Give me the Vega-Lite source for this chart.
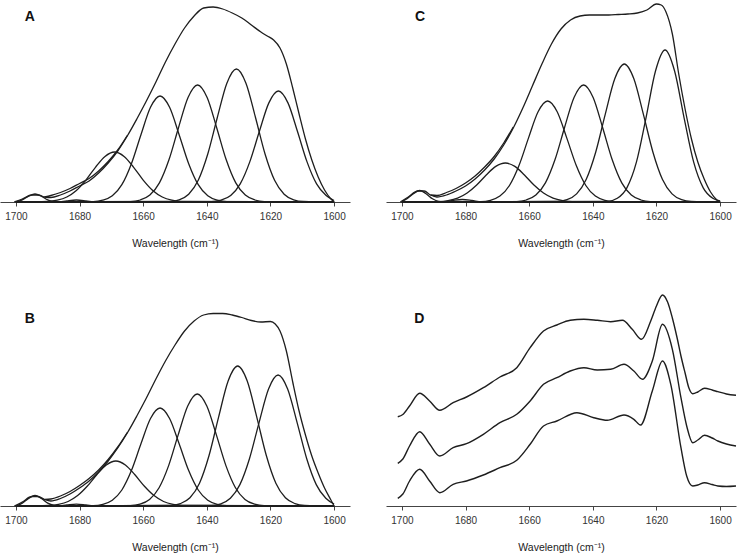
{
"$schema": "https://vega.github.io/schema/vega-lite/v6.json",
"padding": 0,
"background": "white",
"config": {"font": "Liberation Sans", "view": {"stroke": null},
  "axis": {"domainColor": "#444", "tickColor": "#444", "tickSize": 4, "labelFontSize": 10, "labelColor": "#333", "titleFontSize": 10.5, "titleFontWeight": "normal", "titleColor": "#222", "labelPadding": 5, "titlePadding": 17, "grid": false, "labelFlush": false, "labelOverlap": false, "format": "d"}},
"datasets": {
"A": [
{"s":"c1","x":1700,"y":0},{"s":"c1","x":1698,"y":2.2},{"s":"c1","x":1696,"y":5.8},{"s":"c1","x":1694,"y":8},{"s":"c1","x":1692,"y":5.8},{"s":"c1","x":1690,"y":2.2},{"s":"c1","x":1688,"y":0.4},{"s":"c1","x":1686,"y":0},{"s":"c1","x":1600,"y":0},
{"s":"c2","x":1700,"y":0},{"s":"c2","x":1687,"y":0},{"s":"c2","x":1684,"y":1.2},{"s":"c2","x":1681,"y":2},{"s":"c2","x":1678,"y":1.2},{"s":"c2","x":1675,"y":0},{"s":"c2","x":1600,"y":0},
{"s":"c3","x":1700,"y":0},{"s":"c3","x":1690,"y":0.55},{"s":"c3","x":1687,"y":1.8},{"s":"c3","x":1684,"y":5.0},{"s":"c3","x":1681,"y":11.5},{"s":"c3","x":1678,"y":21.9},{"s":"c3","x":1675,"y":34.7},{"s":"c3","x":1672,"y":45.6},{"s":"c3","x":1669,"y":50},{"s":"c3","x":1666,"y":45.6},{"s":"c3","x":1663,"y":34.7},{"s":"c3","x":1660,"y":21.9},{"s":"c3","x":1657,"y":11.5},{"s":"c3","x":1654,"y":5.0},{"s":"c3","x":1651,"y":1.8},{"s":"c3","x":1648,"y":0.55},{"s":"c3","x":1600,"y":0},
{"s":"c4","x":1700,"y":0},{"s":"c4","x":1675.7,"y":0.4},{"s":"c4","x":1672.7,"y":1.8},{"s":"c4","x":1669.7,"y":6.2},{"s":"c4","x":1666.7,"y":17.3},{"s":"c4","x":1663.7,"y":38.3},{"s":"c4","x":1660.7,"y":67.3},{"s":"c4","x":1657.7,"y":94.7},{"s":"c4","x":1654.7,"y":106},{"s":"c4","x":1651.7,"y":94.7},{"s":"c4","x":1648.7,"y":67.3},{"s":"c4","x":1645.7,"y":38.3},{"s":"c4","x":1642.7,"y":17.3},{"s":"c4","x":1639.7,"y":6.2},{"s":"c4","x":1636.7,"y":1.8},{"s":"c4","x":1633.7,"y":0.4},{"s":"c4","x":1600,"y":0},
{"s":"c5","x":1700,"y":0},{"s":"c5","x":1663.9,"y":0.46},{"s":"c5","x":1660.9,"y":2.0},{"s":"c5","x":1657.9,"y":6.9},{"s":"c5","x":1654.9,"y":19.1},{"s":"c5","x":1651.9,"y":42.2},{"s":"c5","x":1648.9,"y":74.3},{"s":"c5","x":1645.9,"y":104.5},{"s":"c5","x":1642.9,"y":117},{"s":"c5","x":1639.9,"y":104.5},{"s":"c5","x":1636.9,"y":74.3},{"s":"c5","x":1633.9,"y":42.2},{"s":"c5","x":1630.9,"y":19.1},{"s":"c5","x":1627.9,"y":6.9},{"s":"c5","x":1624.9,"y":2.0},{"s":"c5","x":1621.9,"y":0.46},{"s":"c5","x":1600,"y":0},
{"s":"c6","x":1700,"y":0},{"s":"c6","x":1651.7,"y":0.5},{"s":"c6","x":1648.7,"y":2.2},{"s":"c6","x":1645.7,"y":7.8},{"s":"c6","x":1642.7,"y":21.7},{"s":"c6","x":1639.7,"y":48.0},{"s":"c6","x":1636.7,"y":84.5},{"s":"c6","x":1633.7,"y":118.8},{"s":"c6","x":1630.7,"y":133},{"s":"c6","x":1627.7,"y":118.8},{"s":"c6","x":1624.7,"y":84.5},{"s":"c6","x":1621.7,"y":48.0},{"s":"c6","x":1618.7,"y":21.7},{"s":"c6","x":1615.7,"y":7.8},{"s":"c6","x":1612.7,"y":2.2},{"s":"c6","x":1609.7,"y":0.5},{"s":"c6","x":1600,"y":0},
{"s":"c7","x":1700,"y":0},{"s":"c7","x":1638.5,"y":0.4},{"s":"c7","x":1635.5,"y":1.9},{"s":"c7","x":1632.5,"y":6.5},{"s":"c7","x":1629.5,"y":18.1},{"s":"c7","x":1626.5,"y":40.1},{"s":"c7","x":1623.5,"y":70.5},{"s":"c7","x":1620.5,"y":99.1},{"s":"c7","x":1617.5,"y":111},{"s":"c7","x":1614.5,"y":99.1},{"s":"c7","x":1611.5,"y":70.5},{"s":"c7","x":1608.5,"y":40.1},{"s":"c7","x":1605.5,"y":18.1},{"s":"c7","x":1602.5,"y":6.5},{"s":"c7","x":1600,"y":1.5},
{"s":"e","x":1700.5,"y":0},{"s":"e","x":1698,"y":3},{"s":"e","x":1695,"y":7},{"s":"e","x":1693,"y":7},{"s":"e","x":1691,"y":5},{"s":"e","x":1689,"y":4.5},{"s":"e","x":1686,"y":7},{"s":"e","x":1683,"y":11},{"s":"e","x":1680,"y":16},{"s":"e","x":1677,"y":21},{"s":"e","x":1674,"y":29},{"s":"e","x":1671,"y":39},{"s":"e","x":1668,"y":51},{"s":"e","x":1665,"y":66},{"s":"e","x":1662,"y":83},{"s":"e","x":1659,"y":101},{"s":"e","x":1656,"y":120},{"s":"e","x":1653,"y":140},{"s":"e","x":1650,"y":158},{"s":"e","x":1647,"y":174},{"s":"e","x":1644,"y":186},{"s":"e","x":1641,"y":194},{"s":"e","x":1638,"y":195},{"s":"e","x":1635,"y":193},{"s":"e","x":1632,"y":189},{"s":"e","x":1629,"y":184},{"s":"e","x":1626,"y":177},{"s":"e","x":1623,"y":170},{"s":"e","x":1621,"y":166},{"s":"e","x":1619,"y":162},{"s":"e","x":1617,"y":154},{"s":"e","x":1615,"y":138},{"s":"e","x":1613,"y":114},{"s":"e","x":1611,"y":88},{"s":"e","x":1609,"y":63},{"s":"e","x":1607,"y":42},{"s":"e","x":1605,"y":25},{"s":"e","x":1603,"y":12},{"s":"e","x":1601,"y":3},{"s":"e","x":1600,"y":0},
{"s":"m","x":1691,"y":5},{"s":"m","x":1689,"y":6.5},{"s":"m","x":1686,"y":9.5},{"s":"m","x":1683,"y":13.5},{"s":"m","x":1680,"y":18.5},{"s":"m","x":1677,"y":23.5},{"s":"m","x":1674,"y":31},{"s":"m","x":1671,"y":40.5},{"s":"m","x":1668,"y":52},{"s":"m","x":1665,"y":66.5}
],
"B": [
{"s":"c1","x":1700,"y":0},{"s":"c1","x":1698,"y":2.9},{"s":"c1","x":1696,"y":7.6},{"s":"c1","x":1694,"y":10.5},{"s":"c1","x":1692,"y":7.6},{"s":"c1","x":1690,"y":2.9},{"s":"c1","x":1688,"y":0.6},{"s":"c1","x":1686,"y":0},{"s":"c1","x":1600,"y":0},
{"s":"c2","x":1700,"y":0},{"s":"c2","x":1687,"y":0},{"s":"c2","x":1684,"y":1},{"s":"c2","x":1681,"y":1.8},{"s":"c2","x":1678,"y":1},{"s":"c2","x":1675,"y":0},{"s":"c2","x":1600,"y":0},
{"s":"c3","x":1700,"y":0},{"s":"c3","x":1689.6,"y":0.5},{"s":"c3","x":1686.6,"y":1.65},{"s":"c3","x":1683.6,"y":4.5},{"s":"c3","x":1680.6,"y":10.4},{"s":"c3","x":1677.6,"y":19.7},{"s":"c3","x":1674.6,"y":31.2},{"s":"c3","x":1671.6,"y":41.0},{"s":"c3","x":1668.6,"y":45},{"s":"c3","x":1665.6,"y":41.0},{"s":"c3","x":1662.6,"y":31.2},{"s":"c3","x":1659.6,"y":19.7},{"s":"c3","x":1656.6,"y":10.4},{"s":"c3","x":1653.6,"y":4.5},{"s":"c3","x":1650.6,"y":1.65},{"s":"c3","x":1647.6,"y":0.5},{"s":"c3","x":1600,"y":0},
{"s":"c4","x":1700,"y":0},{"s":"c4","x":1675.7,"y":0.4},{"s":"c4","x":1672.7,"y":1.7},{"s":"c4","x":1669.7,"y":5.8},{"s":"c4","x":1666.7,"y":16.0},{"s":"c4","x":1663.7,"y":35.4},{"s":"c4","x":1660.7,"y":62.2},{"s":"c4","x":1657.7,"y":87.5},{"s":"c4","x":1654.7,"y":98},{"s":"c4","x":1651.7,"y":87.5},{"s":"c4","x":1648.7,"y":62.2},{"s":"c4","x":1645.7,"y":35.4},{"s":"c4","x":1642.7,"y":16.0},{"s":"c4","x":1639.7,"y":5.8},{"s":"c4","x":1636.7,"y":1.7},{"s":"c4","x":1633.7,"y":0.4},{"s":"c4","x":1600,"y":0},
{"s":"c5","x":1700,"y":0},{"s":"c5","x":1664,"y":0.44},{"s":"c5","x":1661,"y":1.9},{"s":"c5","x":1658,"y":6.6},{"s":"c5","x":1655,"y":18.3},{"s":"c5","x":1652,"y":40.4},{"s":"c5","x":1649,"y":71.1},{"s":"c5","x":1646,"y":100.0},{"s":"c5","x":1643,"y":112},{"s":"c5","x":1640,"y":100.0},{"s":"c5","x":1637,"y":71.1},{"s":"c5","x":1634,"y":40.4},{"s":"c5","x":1631,"y":18.3},{"s":"c5","x":1628,"y":6.6},{"s":"c5","x":1625,"y":1.9},{"s":"c5","x":1622,"y":0.44},{"s":"c5","x":1600,"y":0},
{"s":"c6","x":1700,"y":0},{"s":"c6","x":1651.3,"y":0.55},{"s":"c6","x":1648.3,"y":2.4},{"s":"c6","x":1645.3,"y":8.2},{"s":"c6","x":1642.3,"y":22.8},{"s":"c6","x":1639.3,"y":50.5},{"s":"c6","x":1636.3,"y":88.9},{"s":"c6","x":1633.3,"y":125.0},{"s":"c6","x":1630.3,"y":140},{"s":"c6","x":1627.3,"y":125.0},{"s":"c6","x":1624.3,"y":88.9},{"s":"c6","x":1621.3,"y":50.5},{"s":"c6","x":1618.3,"y":22.8},{"s":"c6","x":1615.3,"y":8.2},{"s":"c6","x":1612.3,"y":2.4},{"s":"c6","x":1609.3,"y":0.55},{"s":"c6","x":1600,"y":0},
{"s":"c7","x":1700,"y":0},{"s":"c7","x":1638.6,"y":0.5},{"s":"c7","x":1635.6,"y":2.2},{"s":"c7","x":1632.6,"y":7.7},{"s":"c7","x":1629.6,"y":21.4},{"s":"c7","x":1626.6,"y":47.3},{"s":"c7","x":1623.6,"y":83.2},{"s":"c7","x":1620.6,"y":117.0},{"s":"c7","x":1617.6,"y":131},{"s":"c7","x":1614.6,"y":117.0},{"s":"c7","x":1611.6,"y":83.2},{"s":"c7","x":1608.6,"y":47.3},{"s":"c7","x":1605.6,"y":21.4},{"s":"c7","x":1602.6,"y":7.7},{"s":"c7","x":1600,"y":2},
{"s":"e","x":1700.5,"y":0},{"s":"e","x":1698,"y":4},{"s":"e","x":1695,"y":9.5},{"s":"e","x":1693,"y":9.5},{"s":"e","x":1691,"y":6.5},{"s":"e","x":1689,"y":5},{"s":"e","x":1686,"y":7.5},{"s":"e","x":1683,"y":12},{"s":"e","x":1680,"y":18},{"s":"e","x":1677,"y":25},{"s":"e","x":1674,"y":34},{"s":"e","x":1671,"y":45},{"s":"e","x":1668,"y":58},{"s":"e","x":1665,"y":73},{"s":"e","x":1662,"y":90},{"s":"e","x":1659,"y":108},{"s":"e","x":1656,"y":127},{"s":"e","x":1653,"y":145},{"s":"e","x":1650,"y":161},{"s":"e","x":1647,"y":175},{"s":"e","x":1644,"y":185},{"s":"e","x":1641,"y":191},{"s":"e","x":1638,"y":192.5},{"s":"e","x":1635,"y":192.5},{"s":"e","x":1632,"y":191},{"s":"e","x":1629,"y":188.5},{"s":"e","x":1626,"y":185.5},{"s":"e","x":1623,"y":184},{"s":"e","x":1620,"y":184.5},{"s":"e","x":1618.5,"y":182},{"s":"e","x":1617,"y":175},{"s":"e","x":1615,"y":155},{"s":"e","x":1613,"y":124},{"s":"e","x":1611,"y":95},{"s":"e","x":1609,"y":71},{"s":"e","x":1607,"y":50},{"s":"e","x":1605,"y":33},{"s":"e","x":1603,"y":18},{"s":"e","x":1601,"y":6},{"s":"e","x":1600,"y":0},
{"s":"m","x":1691,"y":6.5},{"s":"m","x":1689,"y":7},{"s":"m","x":1686,"y":10},{"s":"m","x":1683,"y":14.5},{"s":"m","x":1680,"y":20.5},{"s":"m","x":1677,"y":27.5},{"s":"m","x":1674,"y":36},{"s":"m","x":1671,"y":46.5},{"s":"m","x":1668,"y":59},{"s":"m","x":1665,"y":73.5}
],
"C": [
{"s":"c1","x":1700,"y":0.3},{"s":"c1","x":1698.4,"y":3.2},{"s":"c1","x":1696.4,"y":8.3},{"s":"c1","x":1694.4,"y":11.5},{"s":"c1","x":1692.4,"y":8.3},{"s":"c1","x":1690.4,"y":3.2},{"s":"c1","x":1688.4,"y":0.6},{"s":"c1","x":1686,"y":0},{"s":"c1","x":1600,"y":0},
{"s":"c2","x":1700,"y":0},{"s":"c2","x":1687,"y":0},{"s":"c2","x":1684,"y":1.5},{"s":"c2","x":1681,"y":2.5},{"s":"c2","x":1678,"y":1.5},{"s":"c2","x":1675,"y":0},{"s":"c2","x":1600,"y":0},
{"s":"c3","x":1700,"y":0},{"s":"c3","x":1688.5,"y":0.43},{"s":"c3","x":1685.5,"y":1.4},{"s":"c3","x":1682.5,"y":3.9},{"s":"c3","x":1679.5,"y":9.0},{"s":"c3","x":1676.5,"y":17.0},{"s":"c3","x":1673.5,"y":27.0},{"s":"c3","x":1670.5,"y":35.6},{"s":"c3","x":1667.5,"y":39},{"s":"c3","x":1664.5,"y":35.6},{"s":"c3","x":1661.5,"y":27.0},{"s":"c3","x":1658.5,"y":17.0},{"s":"c3","x":1655.5,"y":9.0},{"s":"c3","x":1652.5,"y":3.9},{"s":"c3","x":1649.5,"y":1.4},{"s":"c3","x":1646.5,"y":0.43},{"s":"c3","x":1600,"y":0},
{"s":"c4","x":1700,"y":0},{"s":"c4","x":1675.2,"y":0.4},{"s":"c4","x":1672.2,"y":1.7},{"s":"c4","x":1669.2,"y":5.9},{"s":"c4","x":1666.2,"y":16.5},{"s":"c4","x":1663.2,"y":36.5},{"s":"c4","x":1660.2,"y":64.1},{"s":"c4","x":1657.2,"y":90.2},{"s":"c4","x":1654.2,"y":101},{"s":"c4","x":1651.2,"y":90.2},{"s":"c4","x":1648.2,"y":64.1},{"s":"c4","x":1645.2,"y":36.5},{"s":"c4","x":1642.2,"y":16.5},{"s":"c4","x":1639.2,"y":5.9},{"s":"c4","x":1636.2,"y":1.7},{"s":"c4","x":1633.2,"y":0.4},{"s":"c4","x":1600,"y":0},
{"s":"c5","x":1700,"y":0},{"s":"c5","x":1663.9,"y":0.46},{"s":"c5","x":1660.9,"y":2.0},{"s":"c5","x":1657.9,"y":6.9},{"s":"c5","x":1654.9,"y":19.1},{"s":"c5","x":1651.9,"y":42.2},{"s":"c5","x":1648.9,"y":74.3},{"s":"c5","x":1645.9,"y":104.5},{"s":"c5","x":1642.9,"y":117},{"s":"c5","x":1639.9,"y":104.5},{"s":"c5","x":1636.9,"y":74.3},{"s":"c5","x":1633.9,"y":42.2},{"s":"c5","x":1630.9,"y":19.1},{"s":"c5","x":1627.9,"y":6.9},{"s":"c5","x":1624.9,"y":2.0},{"s":"c5","x":1621.9,"y":0.46},{"s":"c5","x":1600,"y":0},
{"s":"c6","x":1700,"y":0},{"s":"c6","x":1651.1,"y":0.54},{"s":"c6","x":1648.1,"y":2.3},{"s":"c6","x":1645.1,"y":8.1},{"s":"c6","x":1642.1,"y":22.5},{"s":"c6","x":1639.1,"y":49.8},{"s":"c6","x":1636.1,"y":87.6},{"s":"c6","x":1633.1,"y":123.2},{"s":"c6","x":1630.1,"y":138},{"s":"c6","x":1627.1,"y":123.2},{"s":"c6","x":1624.1,"y":87.6},{"s":"c6","x":1621.1,"y":49.8},{"s":"c6","x":1618.1,"y":22.5},{"s":"c6","x":1615.1,"y":8.1},{"s":"c6","x":1612.1,"y":2.3},{"s":"c6","x":1609.1,"y":0.54},{"s":"c6","x":1600,"y":0},
{"s":"c7","x":1700,"y":0},{"s":"c7","x":1635.3,"y":0.7},{"s":"c7","x":1632.3,"y":3.7},{"s":"c7","x":1629.3,"y":14.1},{"s":"c7","x":1626.3,"y":39.8},{"s":"c7","x":1623.3,"y":83.9},{"s":"c7","x":1620.3,"y":131.0},{"s":"c7","x":1617.3,"y":152},{"s":"c7","x":1614.3,"y":131.0},{"s":"c7","x":1611.3,"y":83.9},{"s":"c7","x":1608.3,"y":39.8},{"s":"c7","x":1605.3,"y":14.1},{"s":"c7","x":1602.3,"y":3.7},{"s":"c7","x":1600,"y":1},
{"s":"e","x":1700.5,"y":0},{"s":"e","x":1698,"y":5},{"s":"e","x":1695,"y":11},{"s":"e","x":1693,"y":11},{"s":"e","x":1691,"y":7},{"s":"e","x":1689,"y":5},{"s":"e","x":1686,"y":7},{"s":"e","x":1683,"y":11},{"s":"e","x":1680,"y":16},{"s":"e","x":1677,"y":23},{"s":"e","x":1674,"y":32},{"s":"e","x":1671,"y":43},{"s":"e","x":1668,"y":57},{"s":"e","x":1665,"y":74},{"s":"e","x":1662,"y":94},{"s":"e","x":1659,"y":116},{"s":"e","x":1656,"y":138},{"s":"e","x":1653,"y":158},{"s":"e","x":1650,"y":173},{"s":"e","x":1647,"y":182},{"s":"e","x":1644,"y":186},{"s":"e","x":1641,"y":187},{"s":"e","x":1638,"y":187},{"s":"e","x":1635,"y":187},{"s":"e","x":1632,"y":187.5},{"s":"e","x":1629,"y":188},{"s":"e","x":1626,"y":189},{"s":"e","x":1623,"y":192},{"s":"e","x":1620,"y":198},{"s":"e","x":1618.5,"y":197},{"s":"e","x":1617,"y":190},{"s":"e","x":1615,"y":168},{"s":"e","x":1613,"y":128},{"s":"e","x":1611,"y":93},{"s":"e","x":1609,"y":63},{"s":"e","x":1607,"y":40},{"s":"e","x":1605,"y":23},{"s":"e","x":1603,"y":10},{"s":"e","x":1601,"y":2},{"s":"e","x":1600,"y":0},
{"s":"m","x":1691,"y":7},{"s":"m","x":1689,"y":6.5},{"s":"m","x":1686,"y":9.5},{"s":"m","x":1683,"y":13.5},{"s":"m","x":1680,"y":19},{"s":"m","x":1677,"y":26},{"s":"m","x":1674,"y":35},{"s":"m","x":1671,"y":45.5},{"s":"m","x":1668,"y":59},{"s":"m","x":1665,"y":75}
],
"D": [
{"s":"t","x":1701.3,"y":89.3},{"s":"t","x":1699.7,"y":91.5},{"s":"t","x":1697.6,"y":100},{"s":"t","x":1694.4,"y":112.7},{"s":"t","x":1691.3,"y":105},{"s":"t","x":1688.1,"y":95.7},{"s":"t","x":1683.9,"y":103.3},{"s":"t","x":1679.7,"y":109},{"s":"t","x":1674.4,"y":118.3},{"s":"t","x":1669.2,"y":129},{"s":"t","x":1663.9,"y":138.3},{"s":"t","x":1659.7,"y":158.3},{"s":"t","x":1655.5,"y":175},{"s":"t","x":1651.3,"y":181},{"s":"t","x":1647.1,"y":185.7},{"s":"t","x":1642.8,"y":186.7},{"s":"t","x":1638.6,"y":185.7},{"s":"t","x":1634.4,"y":184.3},{"s":"t","x":1630.7,"y":185.7},{"s":"t","x":1627.6,"y":176.7},{"s":"t","x":1624.7,"y":166.7},{"s":"t","x":1621.8,"y":185},{"s":"t","x":1620,"y":200},{"s":"t","x":1618.1,"y":211},{"s":"t","x":1616.5,"y":204},{"s":"t","x":1615,"y":188},{"s":"t","x":1613.5,"y":168},{"s":"t","x":1612.3,"y":150},{"s":"t","x":1611,"y":133},{"s":"t","x":1609.8,"y":118},{"s":"t","x":1608.6,"y":112.3},{"s":"t","x":1607,"y":114},{"s":"t","x":1604.9,"y":117.7},{"s":"t","x":1602.5,"y":116},{"s":"t","x":1600.7,"y":114.3},{"s":"t","x":1598,"y":112},{"s":"t","x":1595,"y":110.7},
{"s":"m","x":1701.3,"y":42.7},{"s":"m","x":1699.7,"y":47},{"s":"m","x":1697.6,"y":60},{"s":"m","x":1694.4,"y":74.3},{"s":"m","x":1691.3,"y":62},{"s":"m","x":1688.1,"y":50},{"s":"m","x":1683.9,"y":58.3},{"s":"m","x":1679.7,"y":62.3},{"s":"m","x":1674.4,"y":71.7},{"s":"m","x":1669.2,"y":83.3},{"s":"m","x":1663.9,"y":91.7},{"s":"m","x":1659.7,"y":105},{"s":"m","x":1655.5,"y":121.7},{"s":"m","x":1651.3,"y":128.3},{"s":"m","x":1647.1,"y":135},{"s":"m","x":1642.8,"y":138.3},{"s":"m","x":1638.6,"y":136},{"s":"m","x":1634.4,"y":136.7},{"s":"m","x":1630.2,"y":141.7},{"s":"m","x":1627.1,"y":135},{"s":"m","x":1624.4,"y":126.7},{"s":"m","x":1621.3,"y":145},{"s":"m","x":1618.1,"y":181.7},{"s":"m","x":1615,"y":156.7},{"s":"m","x":1612.3,"y":108.3},{"s":"m","x":1610.5,"y":80},{"s":"m","x":1608.6,"y":63.3},{"s":"m","x":1607,"y":66},{"s":"m","x":1604.9,"y":70.7},{"s":"m","x":1602.5,"y":68},{"s":"m","x":1600.7,"y":65},{"s":"m","x":1598,"y":62},{"s":"m","x":1595,"y":60},
{"s":"b","x":1701.3,"y":7.7},{"s":"b","x":1699.7,"y":12},{"s":"b","x":1697.6,"y":25},{"s":"b","x":1694.4,"y":36.7},{"s":"b","x":1691.3,"y":25},{"s":"b","x":1688.1,"y":13.3},{"s":"b","x":1683.9,"y":21.7},{"s":"b","x":1679.7,"y":25},{"s":"b","x":1674.4,"y":31},{"s":"b","x":1669.2,"y":38.3},{"s":"b","x":1663.9,"y":45.7},{"s":"b","x":1659.7,"y":61.7},{"s":"b","x":1655.5,"y":80},{"s":"b","x":1651.3,"y":85},{"s":"b","x":1645,"y":93.3},{"s":"b","x":1639.7,"y":88.3},{"s":"b","x":1635.5,"y":85.7},{"s":"b","x":1630.2,"y":91},{"s":"b","x":1627.1,"y":86.7},{"s":"b","x":1625,"y":81},{"s":"b","x":1621.3,"y":115},{"s":"b","x":1618.1,"y":145},{"s":"b","x":1615.5,"y":121.7},{"s":"b","x":1612.3,"y":58.3},{"s":"b","x":1610.5,"y":30},{"s":"b","x":1608.6,"y":20},{"s":"b","x":1607,"y":21},{"s":"b","x":1604.9,"y":23.3},{"s":"b","x":1602.5,"y":21.5},{"s":"b","x":1600.7,"y":20},{"s":"b","x":1598,"y":19.5},{"s":"b","x":1595,"y":20}
]
},
"spacing": 43,
"vconcat": [
{"hconcat": [
 {"width": 350, "height": 202, "layer": [
  {"data": {"name": "A"}, "mark": {"type": "line", "interpolate": "monotone", "stroke": "#1e1e1e", "strokeWidth": 1.3},
   "encoding": {"x": {"field": "x", "type": "quantitative", "scale": {"domain": [1595, 1705], "reverse": true, "nice": false, "zero": false}, "axis": {"values": [1700,1680,1660,1640,1620,1600], "title": "Wavelength (cm⁻¹)"}},
    "y": {"field": "y", "type": "quantitative", "scale": {"domain": [0, 202], "nice": false}, "axis": null}, "detail": {"field": "s"}}},
  {"data": {"values": [{"t": "A", "x": 1695.6, "y": 185}]}, "mark": {"type": "text", "fontWeight": "bold", "fontSize": 14, "color": "#111"},
   "encoding": {"x": {"field": "x", "type": "quantitative"}, "y": {"field": "y", "type": "quantitative"}, "text": {"field": "t"}}}
 ]},
 {"width": 350, "height": 202, "layer": [
  {"data": {"name": "C"}, "mark": {"type": "line", "interpolate": "monotone", "stroke": "#1e1e1e", "strokeWidth": 1.3},
   "encoding": {"x": {"field": "x", "type": "quantitative", "scale": {"domain": [1595, 1705], "reverse": true, "nice": false, "zero": false}, "axis": {"values": [1700,1680,1660,1640,1620,1600], "title": "Wavelength (cm⁻¹)"}},
    "y": {"field": "y", "type": "quantitative", "scale": {"domain": [0, 202], "nice": false}, "axis": null}, "detail": {"field": "s"}}},
  {"data": {"values": [{"t": "C", "x": 1694.3, "y": 185}]}, "mark": {"type": "text", "fontWeight": "bold", "fontSize": 14, "color": "#111"},
   "encoding": {"x": {"field": "x", "type": "quantitative"}, "y": {"field": "y", "type": "quantitative"}, "text": {"field": "t"}}}
 ]}
], "spacing": 36},
{"hconcat": [
 {"width": 350, "height": 214, "layer": [
  {"data": {"name": "B"}, "mark": {"type": "line", "interpolate": "monotone", "stroke": "#1e1e1e", "strokeWidth": 1.3},
   "encoding": {"x": {"field": "x", "type": "quantitative", "scale": {"domain": [1595, 1705], "reverse": true, "nice": false, "zero": false}, "axis": {"values": [1700,1680,1660,1640,1620,1600], "title": "Wavelength (cm⁻¹)"}},
    "y": {"field": "y", "type": "quantitative", "scale": {"domain": [0, 214], "nice": false}, "axis": null}, "detail": {"field": "s"}}},
  {"data": {"values": [{"t": "B", "x": 1695.6, "y": 186.7}]}, "mark": {"type": "text", "fontWeight": "bold", "fontSize": 14, "color": "#111"},
   "encoding": {"x": {"field": "x", "type": "quantitative"}, "y": {"field": "y", "type": "quantitative"}, "text": {"field": "t"}}}
 ]},
 {"width": 350, "height": 214, "layer": [
  {"data": {"name": "D"}, "mark": {"type": "line", "interpolate": "monotone", "stroke": "#1e1e1e", "strokeWidth": 1.4},
   "encoding": {"x": {"field": "x", "type": "quantitative", "scale": {"domain": [1595, 1705], "reverse": true, "nice": false, "zero": false}, "axis": {"values": [1700,1680,1660,1640,1620,1600], "title": "Wavelength (cm⁻¹)"}},
    "y": {"field": "y", "type": "quantitative", "scale": {"domain": [0, 214], "nice": false}, "axis": null}, "detail": {"field": "s"}}},
  {"data": {"values": [{"t": "D", "x": 1694.5, "y": 186.7}]}, "mark": {"type": "text", "fontWeight": "bold", "fontSize": 14, "color": "#111"},
   "encoding": {"x": {"field": "x", "type": "quantitative"}, "y": {"field": "y", "type": "quantitative"}, "text": {"field": "t"}}}
 ]}
], "spacing": 36}
]
}
